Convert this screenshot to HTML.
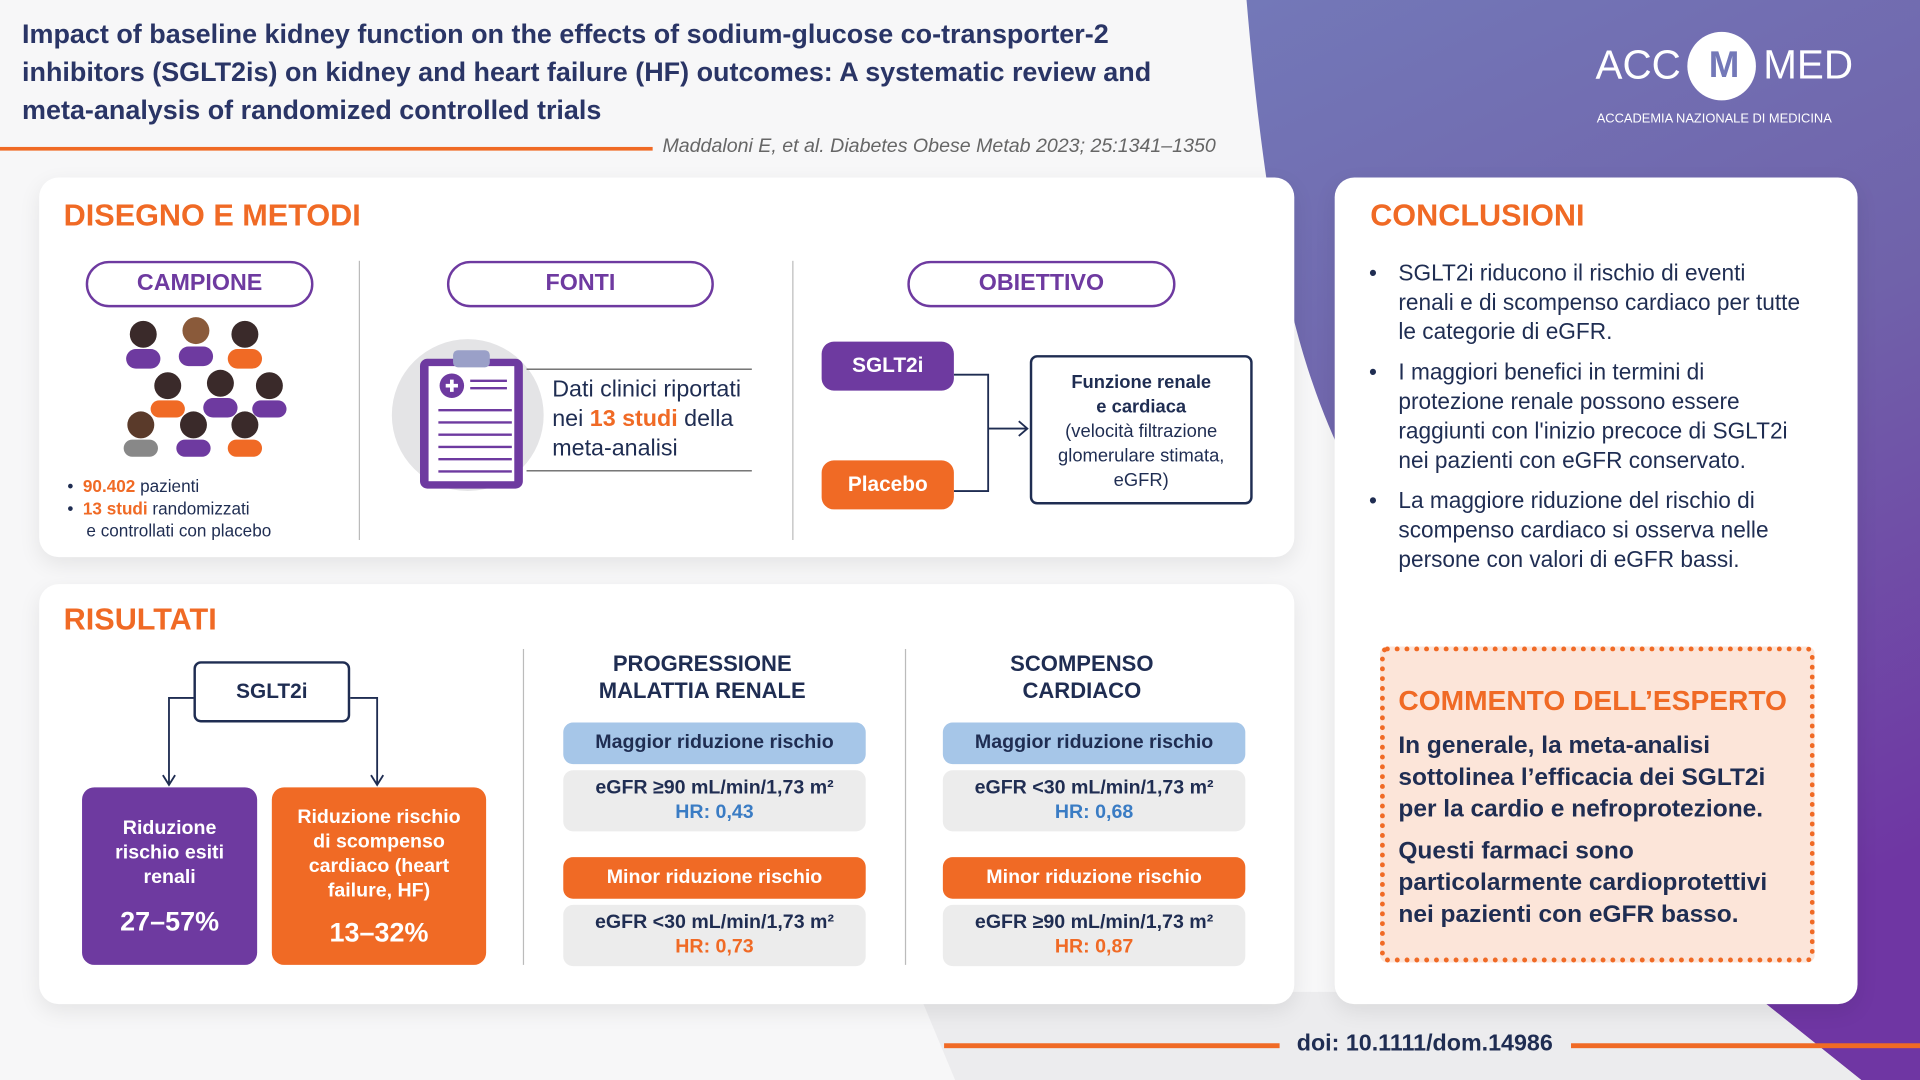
<!DOCTYPE html>
<html><head><meta charset="utf-8"><style>
*{margin:0;padding:0;box-sizing:border-box}
body{width:1920px;height:1080px;overflow:hidden;background:#f7f7f8;font-family:"Liberation Sans",sans-serif}
#w{position:absolute;left:0;top:0;width:1568px;height:882px;transform:scale(1.22449);transform-origin:0 0;color:#1f2d52}
.a{position:absolute}
.card{position:absolute;background:#fff;border-radius:16px;box-shadow:0 6px 18px rgba(0,0,0,.08)}
.h{color:#f06a25;font-weight:bold;font-size:25px}
.pill{position:absolute;border:2px solid #6e3aa0;border-radius:20px;text-align:center;color:#6e3aa0;font-weight:bold;font-size:19px;line-height:34px;background:#fff}
.b{font-weight:bold}
.o{color:#f06a25}
.box{position:absolute;border-radius:10px;text-align:center;font-weight:bold;color:#fff}
.lb{position:absolute;background:#a6c6e8;border-radius:8px;text-align:center;font-weight:bold;font-size:16px;line-height:34px;color:#1f2d52}
.ob{position:absolute;background:#f06a25;border-radius:8px;text-align:center;font-weight:bold;font-size:16px;line-height:34px;color:#fff}
.gb{position:absolute;background:#ececec;border-radius:8px;text-align:center;font-weight:bold;font-size:16px;line-height:20px;padding-top:5px;height:50px}
.vl{position:absolute;width:1px;background:#bbb}
</style></head><body><div id="w">
<svg class="a" style="left:0;top:0" width="1568" height="882">
<defs><linearGradient id="g" x1="0" y1="0" x2="0.3" y2="1"><stop offset="0" stop-color="#7378b8"/><stop offset="0.5" stop-color="#7062aa"/><stop offset="1" stop-color="#6f36a3"/></linearGradient></defs>
<path d="M1018 0 L1568 0 L1568 882 L1520 882 L1430 810 L1100 810 L1100 380 C1060 300 1035 200 1018 0Z" fill="url(#g)"/>
<path d="M750 810 L1430 810 L1520 882 L780 882 Z" fill="#ececee"/>
</svg>
<div class="a b" style="left:18px;top:12px;width:965px;font-size:22px;line-height:31px;color:#2a3566">Impact of baseline kidney function on the effects of sodium-glucose co-transporter-2 inhibitors (SGLT2is) on kidney and heart failure (HF) outcomes: A systematic review and meta-analysis of randomized controlled trials</div>
<div class="a" style="left:0;top:120px;width:533px;height:3px;background:#f06a25"></div>
<div class="a" style="left:541px;top:111px;font-size:16px;font-style:italic;color:#666">Maddaloni E, et al. Diabetes Obese Metab 2023; 25:1341–1350</div>
<div class="a" style="left:1303px;top:34px;color:#fff;font-size:33px">ACC</div>
<div class="a" style="left:1378px;top:26px;width:56px;height:56px;border-radius:50%;background:#fff;color:#7378b8;font-weight:bold;font-size:30px;text-align:center;line-height:56px;letter-spacing:-4px">M</div>
<div class="a" style="left:1440px;top:34px;color:#fff;font-size:33px">MED</div>
<div class="a" style="left:1304px;top:91px;color:#fff;font-size:10.5px">ACCADEMIA NAZIONALE DI MEDICINA</div>

<div class="card" style="left:32px;top:145px;width:1025px;height:310px"></div>
<div class="a h" style="left:52px;top:162px">DISEGNO E METODI</div>
<div class="pill" style="left:70px;top:213px;width:186px">CAMPIONE</div>
<div class="pill" style="left:365px;top:213px;width:218px">FONTI</div>
<div class="pill" style="left:741px;top:213px;width:219px">OBIETTIVO</div>
<div class="vl" style="left:293px;top:213px;height:228px"></div>
<div class="vl" style="left:647px;top:213px;height:228px"></div>
<svg class="a" style="left:95px;top:255px" width="145" height="120">
<g fill="#6e3aa0"><circle cx="22" cy="18" r="11" fill="#3a2a2a"/><rect x="8" y="30" width="28" height="16" rx="8"/>
<circle cx="65" cy="15" r="11" fill="#8a5a3a"/><rect x="51" y="28" width="28" height="16" rx="8"/>
<circle cx="105" cy="18" r="11" fill="#3a2a2a"/><rect x="91" y="30" width="28" height="16" rx="8" fill="#f06a25"/>
<circle cx="42" cy="60" r="11" fill="#3a2a2a"/><rect x="28" y="72" width="28" height="14" rx="7" fill="#f06a25"/>
<circle cx="85" cy="58" r="11" fill="#3a2a2a"/><rect x="71" y="70" width="28" height="16" rx="8"/>
<circle cx="125" cy="60" r="11" fill="#3a2a2a"/><rect x="111" y="72" width="28" height="14" rx="7"/>
<circle cx="20" cy="92" r="11" fill="#5a3a2a"/><rect x="6" y="104" width="28" height="14" rx="7" fill="#888"/>
<circle cx="63" cy="92" r="11" fill="#3a2a2a"/><rect x="49" y="104" width="28" height="14" rx="7"/>
<circle cx="105" cy="92" r="11" fill="#3a2a2a"/><rect x="91" y="104" width="28" height="14" rx="7" fill="#f06a25"/></g>
</svg>
<div class="a" style="left:55px;top:388px;font-size:14px;line-height:18px">• &nbsp;<span class="b o">90.402</span> pazienti<br>• &nbsp;<span class="b o">13 studi</span> randomizzati<br>&nbsp;&nbsp;&nbsp;&nbsp;e controllati con placebo</div>
<div class="a" style="left:320px;top:277px;width:124px;height:124px;border-radius:50%;background:#e4e4e6"></div>
<svg class="a" style="left:340px;top:283px" width="92" height="120"><rect x="3" y="10" width="84" height="106" rx="6" fill="#6e3aa0"/><rect x="10" y="16" width="70" height="94" fill="#fff"/><rect x="30" y="3" width="30" height="14" rx="4" fill="#9aa0c8"/><circle cx="29" cy="32" r="10" fill="#6e3aa0"/><path d="M24 32h10M29 27v10" stroke="#fff" stroke-width="3"/>
<g stroke="#6e3aa0" stroke-width="2"><path d="M44 28h30M44 34h30M18 52h60M18 62h60M18 72h60M18 82h60M18 92h60M18 102h60"/></g></svg>
<div class="a" style="left:430px;top:301px;width:184px;height:1px;background:#555"></div>
<div class="a" style="left:430px;top:384px;width:184px;height:1px;background:#555"></div>
<div class="a" style="left:451px;top:307px;font-size:19px;line-height:24px">Dati clinici riportati<br>nei <span class="b o">13 studi</span> della<br>meta-analisi</div>
<div class="box" style="left:671px;top:279px;width:108px;height:40px;background:#6e3aa0;line-height:40px;font-size:17px">SGLT2i</div>
<div class="box" style="left:671px;top:376px;width:108px;height:40px;background:#f06a25;line-height:40px;font-size:17px">Placebo</div>
<svg class="a" style="left:779px;top:290px" width="65" height="125"><path d="M0 16H28V111H0M28 60H60M53 54l7 6-7 6" fill="none" stroke="#1f2d52" stroke-width="1.5"/></svg>
<div class="a" style="left:841px;top:290px;width:182px;height:122px;border:2px solid #1f2d52;border-radius:6px;text-align:center;font-size:15px;line-height:20px;padding-top:11px"><b>Funzione renale<br>e cardiaca</b><br>(velocità filtrazione glomerulare stimata, eGFR)</div>

<div class="card" style="left:32px;top:477px;width:1025px;height:343px"></div>
<div class="a h" style="left:52px;top:492px">RISULTATI</div>
<div class="a b" style="left:158px;top:540px;width:128px;height:50px;border:2px solid #1f2d52;border-radius:6px;text-align:center;line-height:46px;font-size:17px">SGLT2i</div>
<svg class="a" style="left:130px;top:565px" width="190" height="80"><path d="M28 5H8V75M3 68l5 8 5-8M156 5H178V75M173 68l5 8 5-8" fill="none" stroke="#1f2d52" stroke-width="1.5"/></svg>
<div class="box" style="left:67px;top:643px;width:143px;height:145px;background:#6e3aa0;font-size:16px;line-height:20px;padding-top:24px">Riduzione<br>rischio esiti<br>renali<div style="font-size:22px;margin-top:16px">27–57%</div></div>
<div class="box" style="left:222px;top:643px;width:175px;height:145px;background:#f06a25;font-size:16px;line-height:20px;padding-top:15px">Riduzione rischio<br>di scompenso<br>cardiaco (heart<br>failure, HF)<div style="font-size:22px;margin-top:14px">13–32%</div></div>
<div class="vl" style="left:427px;top:530px;height:258px"></div>
<div class="vl" style="left:739px;top:530px;height:258px"></div>
<div class="a b" style="left:450px;top:531px;width:247px;text-align:center;font-size:18px;line-height:22px">PROGRESSIONE<br>MALATTIA RENALE</div>
<div class="a b" style="left:760px;top:531px;width:247px;text-align:center;font-size:18px;line-height:22px">SCOMPENSO<br>CARDIACO</div>
<div class="lb" style="left:460px;top:590px;width:247px">Maggior riduzione rischio</div>
<div class="gb" style="left:460px;top:629px;width:247px">eGFR ≥90 mL/min/1,73 m²<br><span style="color:#3a7cc4">HR: 0,43</span></div>
<div class="ob" style="left:460px;top:700px;width:247px">Minor riduzione rischio</div>
<div class="gb" style="left:460px;top:739px;width:247px">eGFR &lt;30 mL/min/1,73 m²<br><span class="o">HR: 0,73</span></div>
<div class="lb" style="left:770px;top:590px;width:247px">Maggior riduzione rischio</div>
<div class="gb" style="left:770px;top:629px;width:247px">eGFR &lt;30 mL/min/1,73 m²<br><span style="color:#3a7cc4">HR: 0,68</span></div>
<div class="ob" style="left:770px;top:700px;width:247px">Minor riduzione rischio</div>
<div class="gb" style="left:770px;top:739px;width:247px">eGFR ≥90 mL/min/1,73 m²<br><span class="o">HR: 0,87</span></div>

<div class="card" style="left:1090px;top:145px;width:427px;height:675px"></div>
<div class="a h" style="left:1119px;top:162px">CONCLUSIONI</div>
<div class="a" style="left:1118px;top:211px;width:390px;font-size:18.5px;line-height:24px;white-space:nowrap">
<div style="position:relative;padding-left:24px;margin-bottom:9px"><span style="position:absolute;left:0">•</span>SGLT2i riducono il rischio di eventi<br>renali e di scompenso cardiaco per tutte<br>le categorie di eGFR.</div>
<div style="position:relative;padding-left:24px;margin-bottom:9px"><span style="position:absolute;left:0">•</span>I maggiori benefici in termini di<br>protezione renale possono essere<br>raggiunti con l'inizio precoce di SGLT2i<br>nei pazienti con eGFR conservato.</div>
<div style="position:relative;padding-left:24px"><span style="position:absolute;left:0">•</span>La maggiore riduzione del rischio di<br>scompenso cardiaco si osserva nelle<br>persone con valori di eGFR bassi.</div></div>
<div class="a" style="left:1127px;top:528px;width:355px;height:258px;background:#fce5d9;border:4px dotted #f06a25;border-radius:6px"></div>
<div class="a h" style="left:1142px;top:559px;font-size:23px">COMMENTO DELL’ESPERTO</div>
<div class="a b" style="left:1142px;top:596px;width:335px;font-size:20px;line-height:26px">In generale, la meta-analisi sottolinea l’efficacia dei SGLT2i per la cardio e nefroprotezione.<div style="margin-top:8px">Questi farmaci sono particolarmente cardioprotettivi nei pazienti con eGFR basso.</div></div>
<div class="a" style="left:771px;top:852px;width:274px;height:4px;background:#f06a25"></div>
<div class="a" style="left:1283px;top:852px;width:285px;height:4px;background:#f06a25"></div>
<div class="a b" style="left:1059px;top:842px;font-size:19px">doi: 10.1111/dom.14986</div>
</div></body></html>
